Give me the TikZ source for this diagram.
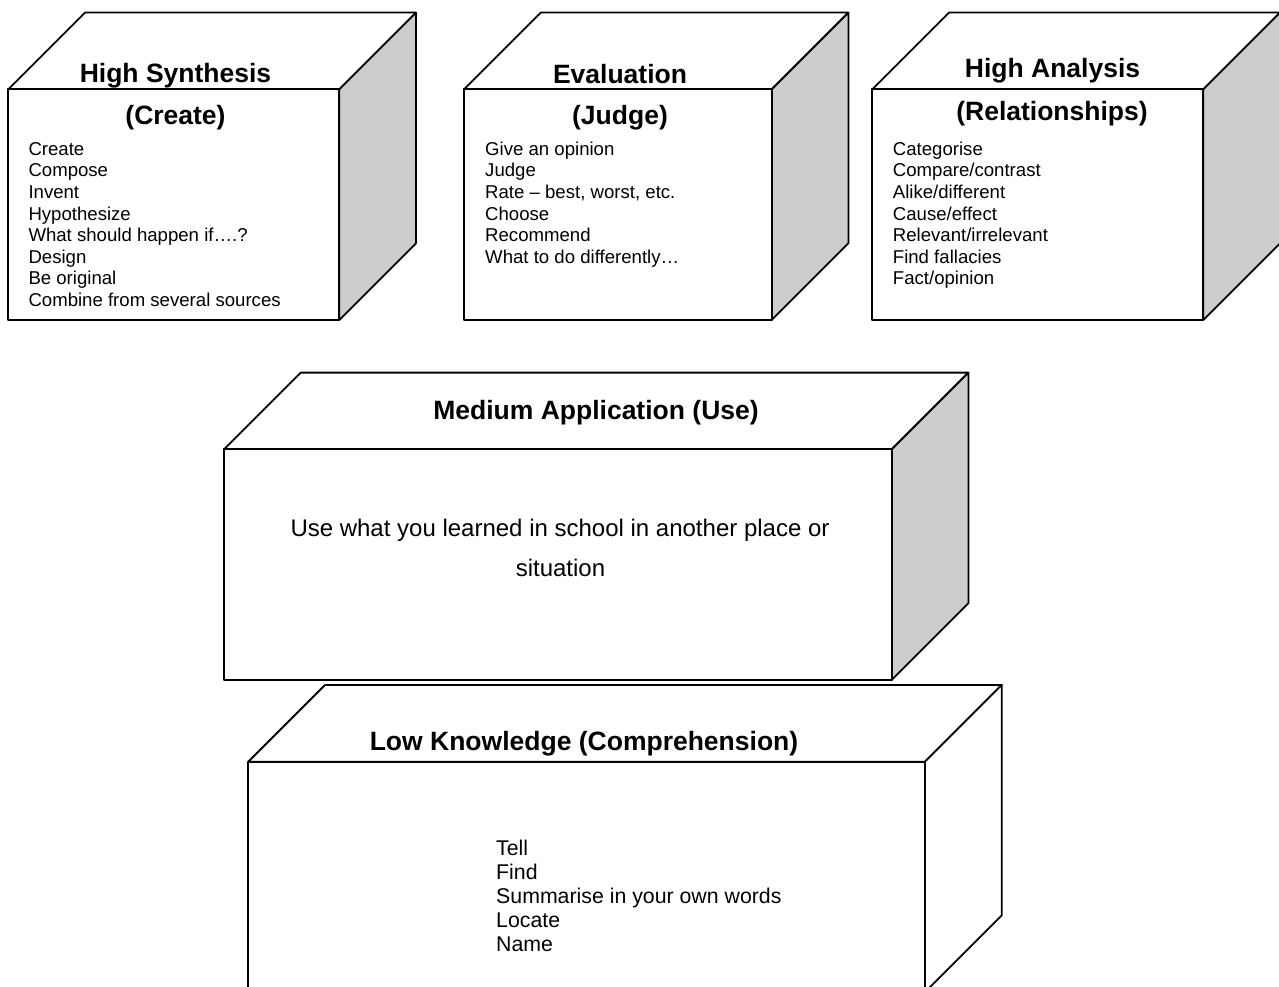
\documentclass[tikz,border=0pt]{standalone}
\usepackage{fontspec}
\setmainfont{Liberation Sans}
\definecolor{sidegray}{RGB}{204,204,204}
\newcommand{\drawcube}[5]{%
  \filldraw[box,fill=white] (#1,#2) -- ++(76.7,-76.7) -- ({#3+76.7},{#2-76.7}) -- (#3,#2) -- cycle;
  \filldraw[box,fill=#5] (#3,#2) -- ++(76.7,-76.7) -- ({#3+76.7},{#4-76.7}) -- (#3,#4) -- cycle;
  \filldraw[box,fill=white] (#1,#2) rectangle (#3,#4);
}
\tikzset{
  box/.style={draw=black, line width=1.8pt, line join=round},
  ttl/.style={font=\fontsize{26.5}{30}\selectfont\bfseries, anchor=base, inner sep=0pt},
  itm/.style={font=\fontsize{18.6}{21.5}\selectfont, anchor=base west, inner sep=0pt},
  midtxt/.style={font=\fontsize{24}{28}\selectfont, anchor=base, inner sep=0pt},
  lowtxt/.style={font=\fontsize{21.3}{24.2}\selectfont, anchor=base west, inner sep=0pt},
}
\begin{document}
\begin{tikzpicture}[x=1pt,y=-1pt]
\useasboundingbox (0,0) rectangle (1279,987);
\clip (0,0) rectangle (1279,987);
\fill[white] (0,0) rectangle (1279,987);

% cubes
\drawcube{8.3}{89.3}{339.3}{320}{sidegray}
\drawcube{464}{89.3}{771.7}{320}{sidegray}
\drawcube{872.3}{89.3}{1203.3}{320}{sidegray}
\drawcube{224}{449.3}{891.7}{680}{sidegray}
\drawcube{248.3}{761.7}{925}{992}{white}

% High Synthesis
\node[ttl] (t1a) at (175.5,83) {High Synthesis};
\node[ttl] (t1b) at (175.5,125) {(Create)};
\foreach [count=\i from 0] \t in {Create,Compose,Invent,Hypothesize,What should happen if….?,Design,Be original,Combine from several sources}
  \node[itm] (s\i) at (28.3,{155.5+21.5*\i}) {\t};

% Evaluation
\node[ttl] (t2a) at (620,83.3) {Evaluation};
\node[ttl] (t2b) at (620,125) {(Judge)};
\foreach [count=\i from 0] \t in {Give an opinion,Judge,{Rate – best, worst, etc.},Choose,Recommend,What to do differently…}
  \node[itm] (e\i) at (485,{155.5+21.5*\i}) {\t};

% High Analysis
\node[ttl] (t3a) at (1052.5,77.3) {High Analysis};
\node[ttl] (t3b) at (1052,120.7) {(Relationships)};
\foreach [count=\i from 0] \t in {Categorise,Compare/contrast,Alike/different,Cause/effect,Relevant/irrelevant,Find fallacies,Fact/opinion}
  \node[itm] (a\i) at (892.7,{155.5+21.5*\i}) {\t};

% Medium Application
\node[ttl] (t4) at (596,419.3) {Medium Application (Use)};
\node[midtxt] (m1) at (560,536) {Use what you learned in school in another place or};
\node[midtxt] (m2) at (560.5,576.7) {situation};

% Low Knowledge
\node[ttl] (t5) at (584,750) {Low Knowledge (Comprehension)};
\foreach [count=\i from 0] \t in {Tell,Find,Summarise in your own words,Locate,Name}
  \node[lowtxt] (l\i) at (496,{855+24.2*\i}) {\t};
\end{tikzpicture}
\end{document}
